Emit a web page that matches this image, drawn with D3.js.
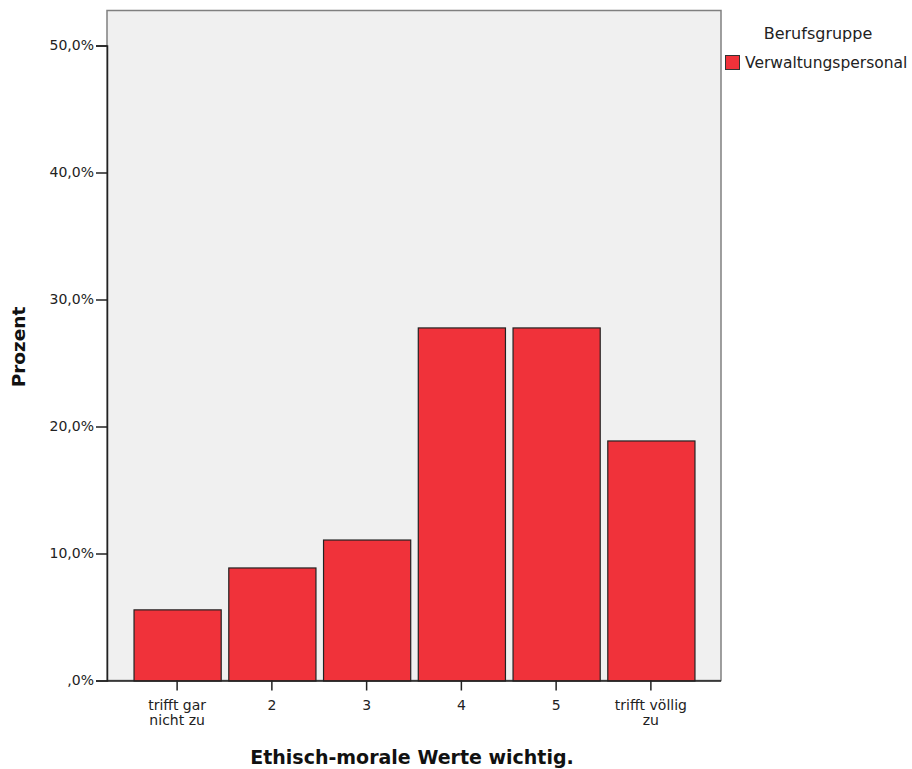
<!DOCTYPE html>
<html><head><meta charset="utf-8">
<script src="https://cdn.jsdelivr.net/npm/d3@7"></script>
<style>body{margin:0;background:#fff;} svg{display:block;font-family:"DejaVu Sans",sans-serif;}</style>
</head><body>
<svg id="c" width="912" height="769"></svg>
<script>
const categories = ["trifft gar\nnicht zu", "2", "3", "4", "5", "trifft völlig\nzu"];
const values = [5.6, 8.9, 11.1, 27.8, 27.8, 18.9];
const yTicks = [0, 10, 20, 30, 40, 50];
const yTickLabels = [",0%", "10,0%", "20,0%", "30,0%", "40,0%", "50,0%"];
const seriesName = "Verwaltungspersonal";
const legendTitle = "Berufsgruppe";
const xTitle = "Ethisch-morale Werte wichtig.";
const yTitle = "Prozent";

const FONT = "DejaVu Sans, sans-serif";
const svg = d3.select("#c");
const L = 107, R = 721, T = 10.5, B = 680.5;
const x = d3.scaleBand().domain(categories).range([L, R]).paddingInner(0.08).paddingOuter(0.28);
const y = d3.scaleLinear().domain([0, 50]).range([B, B - 635]);

svg.append("rect").attr("x", L).attr("y", T).attr("width", R - L).attr("height", B - T)
  .attr("fill", "#f0f0f0").attr("stroke", "#808080").attr("stroke-width", 1.5);

svg.selectAll("rect.bar").data(values).join("rect").attr("class", "bar")
  .attr("x", (d, i) => x(categories[i]) + 0.5)
  .attr("width", x.bandwidth())
  .attr("y", d => y(d) + 0.5)
  .attr("height", d => B - y(d))
  .attr("fill", "#f0323a").attr("stroke", "#222").attr("stroke-width", 1.2);

// Y axis
const ya = d3.axisLeft(y).tickValues(yTicks).tickSize(11).tickFormat((d, i) => yTickLabels[i]);
const gy = svg.append("g").attr("transform", `translate(${L},0)`).call(ya);
gy.attr("font-family", FONT).attr("font-size", 14);
gy.select(".domain").attr("stroke", "#222").attr("stroke-width", 1.5);
gy.selectAll(".tick line").attr("stroke", "#222").attr("stroke-width", 1.5);
gy.selectAll(".tick text").attr("fill", "#222").attr("x", -13);

// X axis
const xa = d3.axisBottom(x).tickSize(10).tickSizeOuter(0).tickFormat(() => "");
const gx = svg.append("g").attr("transform", `translate(0,${B})`).call(xa);
gx.attr("font-family", FONT).attr("font-size", 14);
gx.select(".domain").attr("stroke", "#222").attr("stroke-width", 1.5).attr("d", `M${L},0.5H${R}`);
gx.selectAll(".tick line").attr("stroke", "#222").attr("stroke-width", 1.5);
gx.selectAll(".tick").each(function(d) {
  const g = d3.select(this);
  g.selectAll("text").remove();
  d.split("\n").forEach((s, i) => g.append("text").attr("fill", "#222").attr("text-anchor", "middle")
    .attr("y", 29 + i * 15.5).text(s));
});

// Titles
svg.append("text").attr("x", 412).attr("y", 764).attr("text-anchor", "middle").attr("font-family", FONT)
  .attr("font-size", 19).attr("font-weight", "bold").attr("fill", "#111").text(xTitle);
svg.append("text").attr("transform", "translate(25,347) rotate(-90)").attr("text-anchor", "middle").attr("font-family", FONT)
  .attr("font-size", 18.5).attr("font-weight", "bold").attr("fill", "#111").text(yTitle);

// Legend
svg.append("text").attr("x", 818).attr("y", 39).attr("text-anchor", "middle").attr("font-family", FONT)
  .attr("font-size", 16).attr("fill", "#222").text(legendTitle);
svg.append("rect").attr("x", 725.5).attr("y", 55.5).attr("width", 14).attr("height", 14)
  .attr("fill", "#f0323a").attr("stroke", "#333").attr("stroke-width", 1);
svg.append("text").attr("x", 745).attr("y", 68).attr("font-family", FONT)
  .attr("font-size", 15.5).attr("fill", "#222").text(seriesName);
</script>
</body></html>
